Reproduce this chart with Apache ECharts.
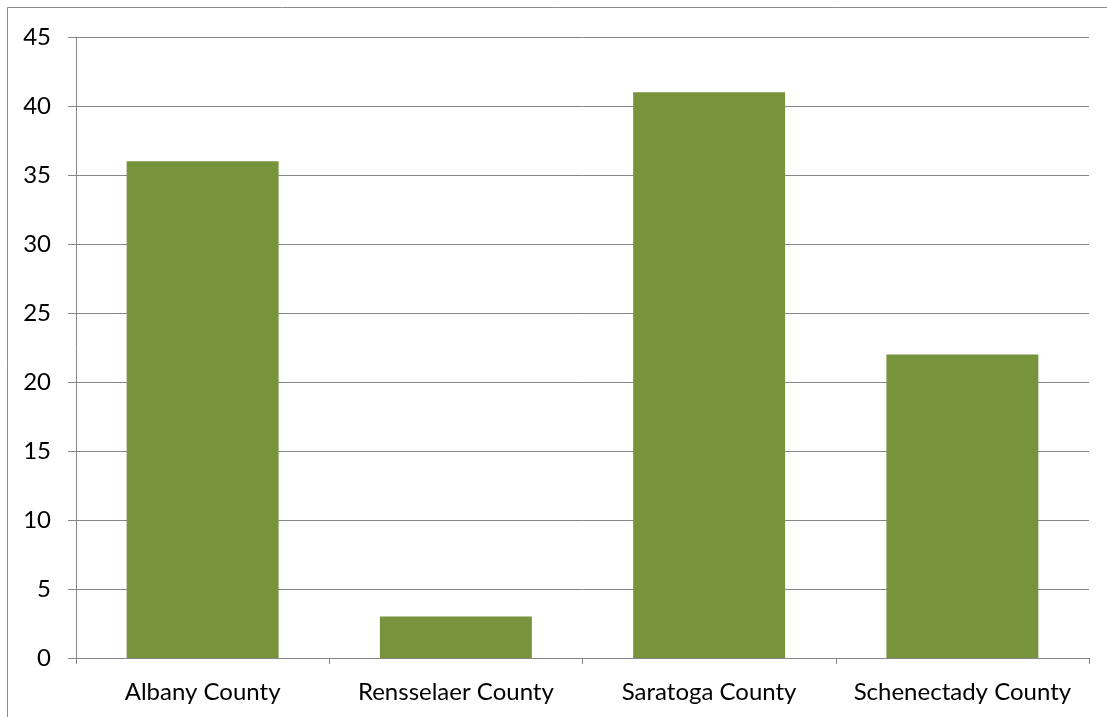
<!DOCTYPE html>
<html>
<head>
<meta charset="utf-8">
<script src="https://cdn.jsdelivr.net/npm/echarts@6/dist/echarts.min.js"></script>
<style>
html,body{margin:0;padding:0;background:#fff;}
#chart{width:1107px;height:717px;}
</style>
</head>
<body>
<div id="chart"></div>
<script>
// County totals
const counties = ['Albany County', 'Rensselaer County', 'Saratoga County', 'Schenectady County'];
const counts = [36, 3, 41, 22];
const yTicks = [0, 5, 10, 15, 20, 25, 30, 35, 40, 45];

const chart = echarts.init(document.getElementById('chart'));
const gridColor = '#868686';
const font = 'Lato';

chart.setOption({
  animation: false,
  backgroundColor: '#fff',
  graphic: [{
    type: 'rect',
    shape: { x: 7.5, y: 7.5, width: 1120, height: 740 },
    style: { fill: 'none', stroke: '#8c8c8c', lineWidth: 1 },
    z: -1
  }],
  grid: { left: 76, right: 18, top: 37, bottom: 59 },
  xAxis: {
    type: 'category',
    data: counties,
    axisLine: { lineStyle: { color: gridColor, width: 1 } },
    axisTick: { show: true, length: 6, alignWithLabel: false, lineStyle: { color: gridColor } },
    axisLabel: { color: '#000', fontFamily: font, fontSize: 24, margin: 22, interval: 0 }
  },
  yAxis: {
    type: 'value',
    min: yTicks[0],
    max: yTicks[yTicks.length - 1],
    interval: 5,
    axisLine: { show: true, lineStyle: { color: gridColor, width: 1 } },
    axisTick: { show: true, length: 8, lineStyle: { color: gridColor } },
    splitLine: { lineStyle: { color: gridColor, width: 1 } },
    axisLabel: { color: '#000', fontFamily: font, fontSize: 24, margin: 25 }
  },
  series: [{
    type: 'bar',
    data: counts,
    barWidth: '60%',
    itemStyle: { color: '#77933C' }
  }]
});
</script>
</body>
</html>
